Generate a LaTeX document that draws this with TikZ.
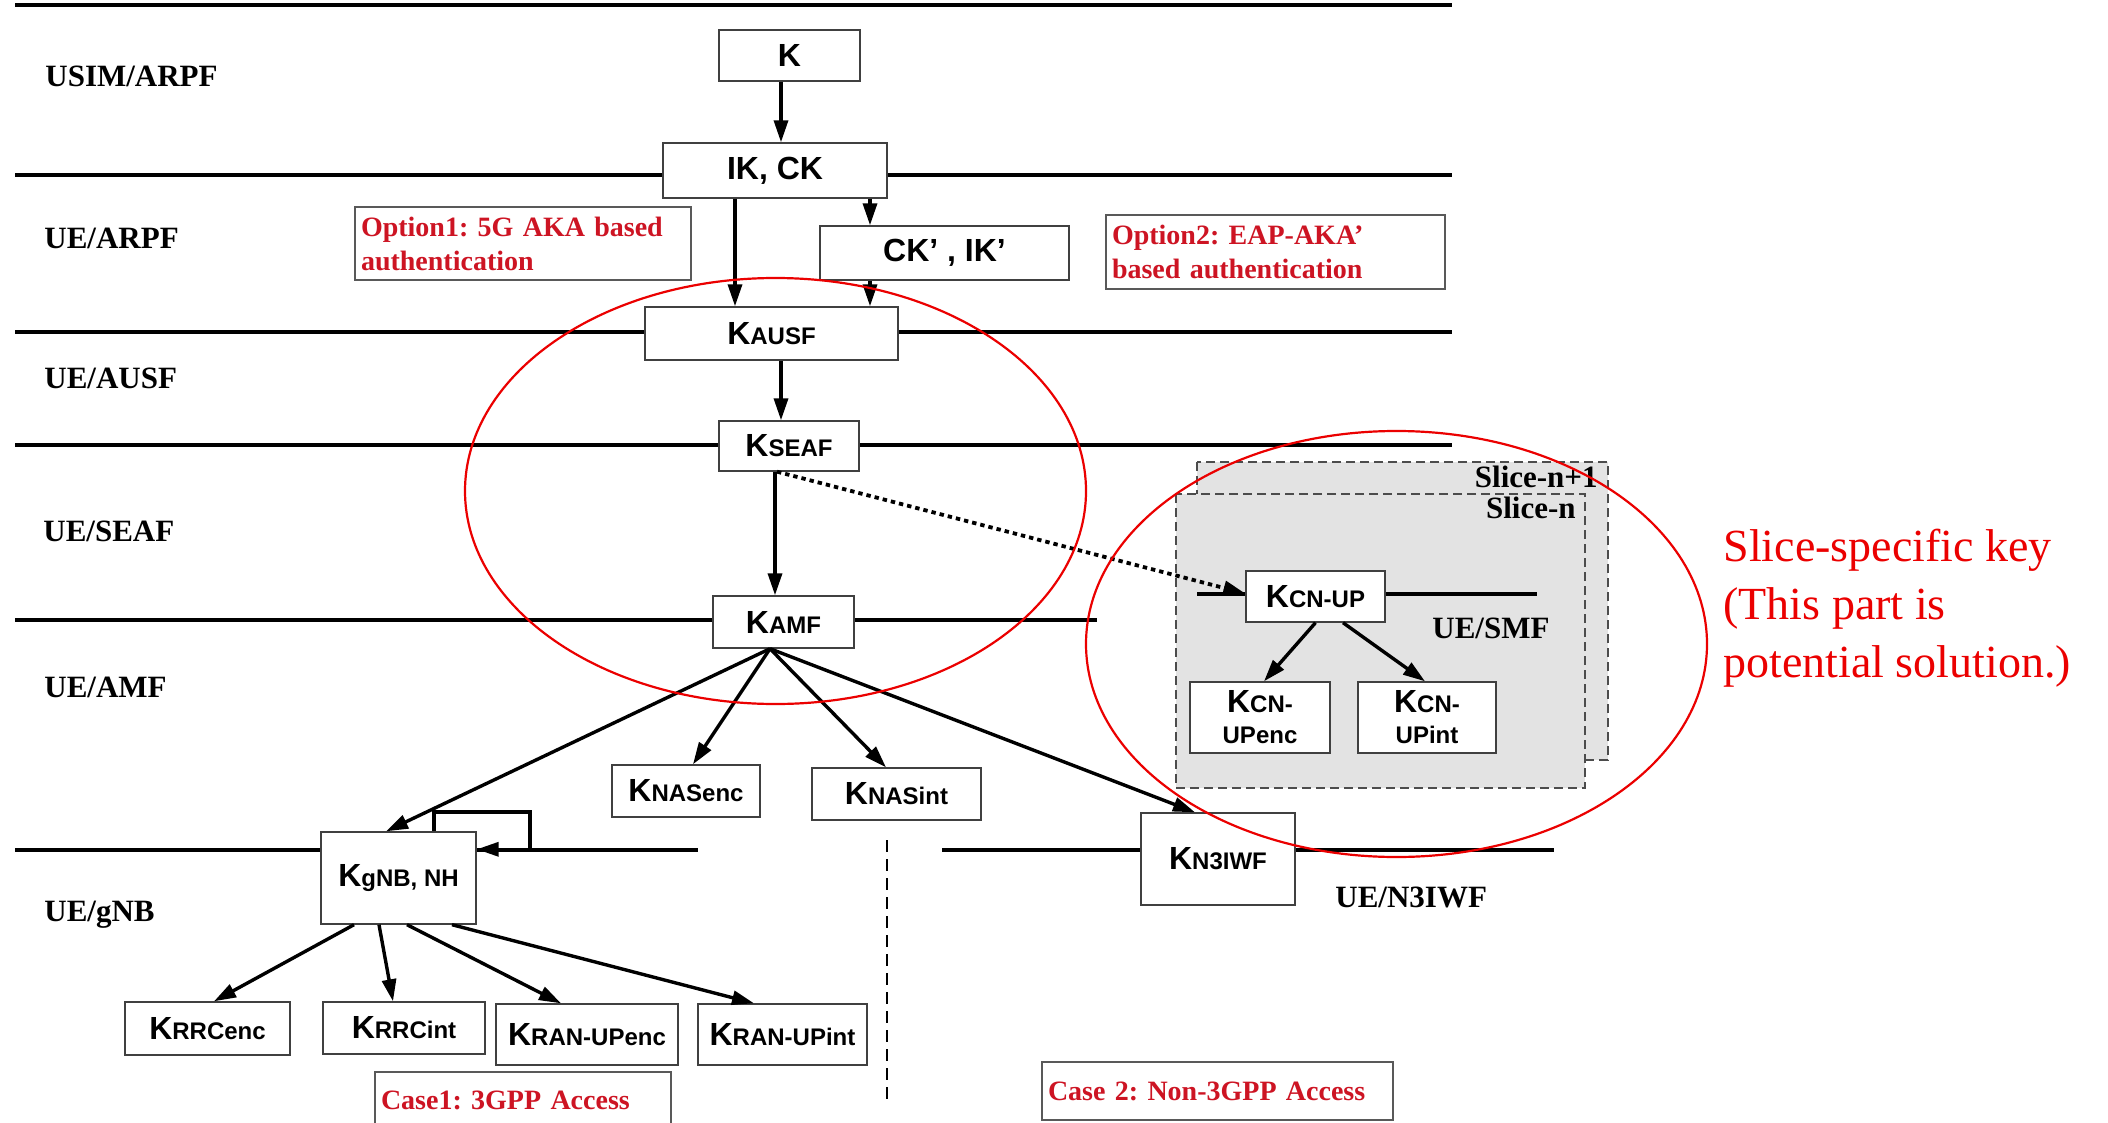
\documentclass[tikz,border=0pt]{standalone}
\usepackage{fontspec}
\setmainfont{Liberation Serif}
\newfontfamily\boxfont{Liberation Sans}
\usetikzlibrary{arrows.meta,calc}
\definecolor{boxred}{RGB}{205,20,35}
\definecolor{ellred}{RGB}{235,0,0}
\definecolor{slicegray}{RGB}{227,227,227}
\newcommand{\kkey}[1]{{\fontsize{16}{19}\selectfont K}{\fontsize{12}{15.5}\selectfont #1}}
\frenchspacing
\begin{document}
\begin{tikzpicture}[x=0.5pt,y=-0.5pt,
  layerline/.style={line width=2pt, black},
  kbox/.style={draw=black!75, line width=0.7pt, fill=white, font=\boxfont\bfseries\fontsize{12}{15.5}\selectfont, inner sep=0pt, align=center},
  redbox/.style={draw=black!65, line width=0.7pt, fill=white, text=boxred, font=\bfseries\fontsize{14}{17}\selectfont, align=left, inner xsep=3pt, inner ysep=0pt},
  lbl/.style={font=\bfseries\fontsize{15.5}{18}\selectfont, anchor=west, inner sep=0pt},
  arr/.style={line width=1.7pt, -{Triangle[length=11pt,width=7pt]}},
  dotarr/.style={line width=1.9pt, dash pattern=on 2.2pt off 2pt, -{Triangle[length=11pt,width=7pt]}},
  slicebox/.style={draw=black!70, fill=slicegray, line width=0.8pt, dash pattern=on 4.5pt off 2.5pt},
  redell/.style={draw=ellred, line width=1.1pt},
  redtxt/.style={text=ellred, font=\fontsize{23}{28.5}\selectfont, anchor=base west, inner sep=0pt}
]
\fill[white] (0,0) rectangle (2108,1123);
\useasboundingbox (0,0) rectangle (2108,1123);
\clip (0,0) rectangle (2108,1123);

% layer lines
\draw[layerline] (15,5) -- (1452,5);
\draw[layerline] (15,175) -- (1452,175);
\draw[layerline] (15,332) -- (1452,332);
\draw[layerline] (15,445) -- (1452,445);
\draw[layerline] (15,620) -- (1097,620);
\draw[layerline] (15,850) -- (698,850);
\draw[layerline] (942,850) -- (1554,850);

% slice areas
\draw[slicebox] (1197,462) rectangle (1608,760);
\draw[slicebox] (1176,494) rectangle (1585,788);
\node[lbl, anchor=east] (slnp) at (1598,477) {Slice-n+1};
\node[lbl, anchor=east] (sln) at (1576,508) {Slice-n};
\draw[layerline] (1197,594) -- (1537,594);

% dashed separator
\draw[line width=1pt, dash pattern=on 6pt off 3.5pt] (887,840) -- (887,1103);

% labels
\node[lbl] (l1) at (45,76) {USIM/ARPF};
\node[lbl] (l2) at (44,238) {UE/ARPF};
\node[lbl] (l3) at (44,378) {UE/AUSF};
\node[lbl] (l4) at (43,531) {UE/SEAF};
\node[lbl] (l5) at (44,687) {UE/AMF};
\node[lbl] (l6) at (44,915) {UE/gNB};
\node[lbl] (l7) at (1432,628) {UE/SMF};
\node[lbl] (l8) at (1335,897) {UE/N3IWF};

% key boxes
\node[kbox, minimum width=70.5pt, minimum height=25.5pt] (k) at (789.5,55.5) {{\fontsize{16}{19}\selectfont K}};
\node[kbox, minimum width=112pt, minimum height=27.5pt] (ikck) at (775,170.5) {{\fontsize{16}{19}\selectfont IK, CK}};
\node[kbox, minimum width=124.5pt, minimum height=27pt] (ckik) at (944.5,253) {{\fontsize{16}{19}\selectfont CK’ , IK’}};
\node[kbox, minimum width=126.5pt, minimum height=26.5pt] (kausf) at (771.5,333.5) {\kkey{AUSF}};
\node[kbox, minimum width=70pt, minimum height=25pt] (kseaf) at (789,446) {\kkey{SEAF}};
\node[kbox, minimum width=70.5pt, minimum height=26pt] (kamf) at (783.5,622) {\kkey{AMF}};
\node[kbox, minimum width=74pt, minimum height=26pt] (knasenc) at (686,791) {\kkey{NASenc}};
\node[kbox, minimum width=84.5pt, minimum height=26pt] (knasint) at (896.5,794) {\kkey{NASint}};
\node[kbox, minimum width=77.5pt, minimum height=46pt] (kgnb) at (398.5,878) {\kkey{gNB, NH}};
\node[kbox, minimum width=82.5pt, minimum height=26.5pt] (krrcenc) at (207.5,1028.5) {\kkey{RRCenc}};
\node[kbox, minimum width=81pt, minimum height=26pt] (krrcint) at (404,1028) {\kkey{RRCint}};
\node[kbox, minimum width=91pt, minimum height=30.5pt] (kranupenc) at (587,1034.5) {\kkey{RAN-UPenc}};
\node[kbox, minimum width=84.5pt, minimum height=30.5pt] (kranupint) at (782.5,1034.5) {\kkey{RAN-UPint}};
\node[kbox, minimum width=77pt, minimum height=46pt] (kn3iwf) at (1218,859) {\kkey{N3IWF}};
\node[kbox, minimum width=69.5pt, minimum height=25.5pt] (kcnup) at (1315.5,596.5) {\kkey{CN-UP}};
\node[kbox, minimum width=70pt, minimum height=35.5pt] (kcnupenc) at (1260,717.5) {\kkey{CN-}\\UPenc};
\node[kbox, minimum width=69pt, minimum height=35.5pt] (kcnupint) at (1427,717.5) {\kkey{CN-}\\UPint};

% red annotation boxes
\node[redbox, text width=162pt, minimum height=36.5pt] (opt1) at (523,243.5) {Option1: 5G AKA based\\authentication};
\node[redbox, text width=163.5pt, minimum height=37pt] (opt2) at (1275.5,252) {Option2: EAP-AKA’\\based authentication};
\node[redbox, text width=142pt, minimum height=28pt] (case1) at (523,1100) {Case1: 3GPP Access};
\node[redbox, text width=169.5pt, minimum height=29pt] (case2) at (1217.5,1091) {Case 2: Non-3GPP Access};

% arrows
\draw[arr] ($(k.south)+(-8.5,0)$) -- ($(ikck.north)+(6,0)$);
\draw[arr] ($(ikck.south)+(-40,0)$) -- ($(kausf.north)+(-36.5,0)$);
\draw[arr] ($(ikck.south)+(95,0)$) -- ($(ckik.north)+(-74.5,0)$);
\draw[arr] ($(ckik.south)+(-74.5,0)$) -- ($(kausf.north)+(98.5,0)$);
\draw[arr] ($(kausf.south)+(9.5,0)$) -- ($(kseaf.north)+(-8,0)$);
\draw[arr] ($(kseaf.south)+(-14,0)$) -- ($(kamf.north)+(-8.5,0)$);
\draw[dotarr] ($(kseaf.south)+(-12,0)$) -- ($(kcnup.west)+(0,-3)$);

\coordinate (fan) at ($(kamf.south)+(-13.5,0)$);
\draw[arr] (fan) -- ($(kgnb.north)+(-12.5,0)$);
\draw[arr] (fan) -- ($(knasenc.north)+(7,0)$);
\draw[arr] (fan) -- ($(knasint.north)+(-10.5,0)$);
\draw[arr] (fan) -- ($(kn3iwf.north)+(-23,0)$);

\coordinate (loop) at (530,812);
\draw[arr] ($(kgnb.north)+(35.5,0)$) |- (loop) |- ($(kgnb.north east)+(0,18)$);

\draw[arr] ($(kgnb.south)+(-44.5,0)$) -- ($(krrcenc.north)+(6.5,0)$);
\draw[arr] ($(kgnb.south)+(-19.5,0)$) -- ($(krrcint.north)+(-11,0)$);
\draw[arr] ($(kgnb.south)+(8.5,0)$) -- ($(kranupenc.north)+(-26,0)$);
\draw[arr] ($(kgnb.south)+(53.5,0)$) -- ($(kranupint.north)+(-28.5,0)$);

\draw[arr] ($(kcnup.south)+(0,0)$) -- ($(kcnupenc.north)+(4,0)$);
\draw[arr] ($(kcnup.south)+(27.5,0)$) -- ($(kcnupint.north)+(-2,0)$);

% red ellipses
\draw[redell] (775.5,491) ellipse [x radius=155.25pt, y radius=106.5pt];
\draw[redell] (1396.5,644) ellipse [x radius=155.25pt, y radius=106.5pt];

% red explanation
\node[redtxt] (t1) at (1723,561) {Slice-specific key};
\node[redtxt] (t2) at (1723,619) {(This part is};
\node[redtxt] (t3) at (1723,677) {potential solution.)};
\end{tikzpicture}
\end{document}
